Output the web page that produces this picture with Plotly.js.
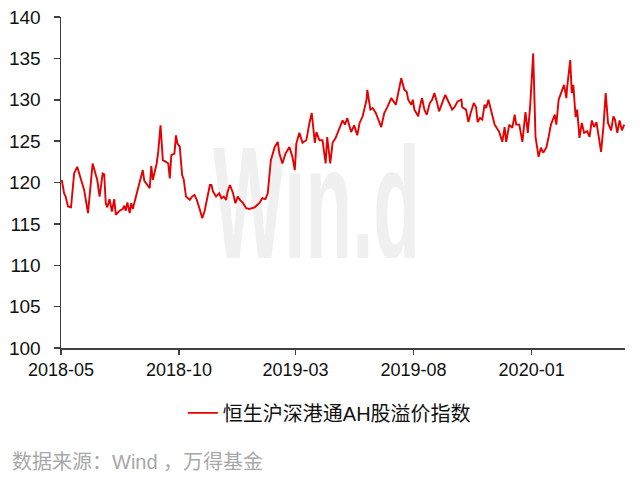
<!DOCTYPE html>
<html>
<head>
<meta charset="utf-8">
<script src="https://cdn.plot.ly/plotly-3.0.1.min.js"></script>
<style>html,body{margin:0;padding:0;background:#fff;}#chart{width:640px;height:481px;}</style>
</head>
<body>
<div id="chart"></div>
<script>
const seriesName = '恒生沪深港通AH股溢价指数';
const sourceText = '数据来源：Wind ，万得基金';
const dates = [
'2018-05-02','2018-05-05','2018-05-07','2018-05-10','2018-05-14','2018-05-18','2018-05-22','2018-05-25','2018-05-27','2018-05-31',
'2018-06-05','2018-06-09','2018-06-11','2018-06-14','2018-06-17','2018-06-20','2018-06-24','2018-06-26','2018-06-28','2018-06-30',
'2018-07-03','2018-07-06','2018-07-09','2018-07-11','2018-07-16','2018-07-20','2018-07-22','2018-07-24','2018-07-26','2018-07-29',
'2018-07-31','2018-08-02','2018-08-06','2018-08-10','2018-08-15','2018-08-17','2018-08-21','2018-08-24','2018-08-26','2018-08-28',
'2018-09-02','2018-09-04','2018-09-07','2018-09-09','2018-09-10','2018-09-14','2018-09-17','2018-09-19','2018-09-21','2018-09-25',
'2018-09-27','2018-09-29','2018-10-02','2018-10-03','2018-10-05','2018-10-07','2018-10-10','2018-10-15','2018-10-18','2018-10-21',
'2018-10-24','2018-10-28','2018-10-31','2018-11-03','2018-11-07','2018-11-10','2018-11-12','2018-11-14','2018-11-18','2018-11-22',
'2018-11-25','2018-11-28','2018-12-01','2018-12-03','2018-12-06','2018-12-10','2018-12-13','2018-12-16','2018-12-19','2018-12-23',
'2018-12-27','2018-12-31','2019-01-07','2019-01-13','2019-01-17','2019-01-21','2019-01-24','2019-01-28','2019-02-02','2019-02-06',
'2019-02-08','2019-02-12','2019-02-16','2019-02-21','2019-02-25','2019-02-28','2019-03-02','2019-03-06','2019-03-10','2019-03-15',
'2019-03-19','2019-03-22','2019-03-26','2019-03-28','2019-04-01','2019-04-05','2019-04-09','2019-04-11','2019-04-15','2019-04-18',
'2019-04-22','2019-04-27','2019-05-01','2019-05-04','2019-05-07','2019-05-12','2019-05-16','2019-05-20','2019-05-23','2019-05-27',
'2019-05-29','2019-06-01','2019-06-02','2019-06-06','2019-06-09','2019-06-13','2019-06-20','2019-06-24','2019-06-28','2019-07-03',
'2019-07-09','2019-07-12','2019-07-16','2019-07-20','2019-07-23','2019-07-25','2019-07-29','2019-07-31','2019-08-02','2019-08-07',
'2019-08-09','2019-08-12','2019-08-15','2019-08-18','2019-08-22','2019-08-25','2019-08-28','2019-08-31','2019-09-03','2019-09-07',
'2019-09-11','2019-09-14','2019-09-20','2019-09-23','2019-09-27','2019-10-02','2019-10-03','2019-10-08','2019-10-11','2019-10-14',
'2019-10-18','2019-10-21','2019-10-23','2019-10-26','2019-10-29','2019-11-01','2019-11-03','2019-11-06','2019-11-09','2019-11-14',
'2019-11-16','2019-11-20','2019-11-24','2019-11-27','2019-11-29','2019-12-03','2019-12-07','2019-12-10','2019-12-12','2019-12-16',
'2019-12-20','2019-12-24','2019-12-27','2019-12-30','2020-01-03','2020-01-06','2020-01-10','2020-01-13','2020-01-16','2020-01-20',
'2020-01-23','2020-01-26','2020-01-31','2020-02-02','2020-02-05','2020-02-09','2020-02-12','2020-02-15','2020-02-16','2020-02-20',
'2020-02-22','2020-02-24','2020-02-27','2020-02-29','2020-03-03','2020-03-06','2020-03-09','2020-03-13','2020-03-16','2020-03-19',
'2020-03-22','2020-03-25','2020-03-27','2020-03-31','2020-04-03','2020-04-06','2020-04-09','2020-04-13','2020-04-16','2020-04-18',
'2020-04-21','2020-04-24','2020-04-27','2020-04-30'
];
const values = [
120.3,118.7,118.3,117.1,117.0,121.1,121.9,120.9,120.4,119.1,
116.3,120.7,122.3,121.3,120.3,118.3,121.1,121.0,117.5,117.0,
118.0,116.5,118.0,116.1,116.6,116.8,117.2,116.6,117.6,116.3,
117.5,116.8,118.3,119.7,121.5,120.2,119.7,119.3,122.0,120.3,
122.3,123.7,126.9,124.7,122.7,122.5,122.3,120.5,123.3,123.5,
125.7,124.7,124.3,123.1,120.9,120.4,118.3,117.9,118.3,118.5,
117.9,116.7,115.7,116.5,118.3,119.7,119.7,118.9,118.3,118.7,
118.1,118.3,117.9,118.9,119.7,118.7,117.5,118.3,117.9,117.5,
116.9,116.8,117.0,117.5,118.1,118.0,118.7,122.7,124.3,124.9,
123.5,122.3,123.5,124.3,123.1,121.5,124.7,126.0,124.8,125.1,
127.2,128.4,124.8,126.1,125.1,125.1,122.3,125.5,122.3,124.8,
125.4,126.7,127.5,127.0,127.8,126.1,126.9,125.7,127.2,128.0,
129.0,130.0,131.2,128.8,129.0,128.4,126.7,128.4,129.1,130.2,
129.4,130.8,132.6,131.2,131.0,130.0,129.4,130.0,128.8,128.0,
129.1,130.2,128.8,128.2,129.6,130.0,130.8,129.8,128.6,129.6,
130.6,130.0,128.8,129.1,129.8,130.0,129.1,128.8,127.3,128.4,
129.6,129.1,127.3,127.8,127.6,129.4,129.0,130.0,128.8,127.0,
126.7,126.1,124.9,126.7,124.9,127.0,126.6,128.2,127.0,127.0,
124.9,128.5,126.0,129.1,135.6,125.5,123.1,124.2,123.6,124.2,
125.5,127.0,128.2,127.0,130.0,131.2,131.8,130.2,131.5,134.8,
130.8,131.8,127.9,128.8,125.4,127.2,126.0,126.2,125.5,127.5,
126.7,127.3,126.1,123.7,126.7,130.8,127.2,126.3,128.0,127.6,
126.0,127.5,126.3,127.0
];

const wm = '<svg xmlns="http://www.w3.org/2000/svg" width="207" height="115" viewBox="0 0 207 115">' +
  '<text x="0" y="115" font-family="Liberation Sans, Arial, sans-serif" font-weight="bold" font-size="160" fill="#f0f0f0" textLength="207" lengthAdjust="spacingAndGlyphs">Win.d</text></svg>';
const wmSrc = 'data:image/svg+xml;charset=utf-8,' + encodeURIComponent(wm);

const trace = {
  x: dates, y: values, type: 'scatter', mode: 'lines', name: seriesName,
  line: {color: '#e60000', width: 1.9}
};

const axisColor = '#404040';
const layout = {
  width: 640, height: 481,
  margin: {l: 61, r: 15, t: 17, b: 133},
  paper_bgcolor: '#ffffff', plot_bgcolor: 'rgba(0,0,0,0)',
  font: {family: 'Liberation Sans, Arial, Noto Sans CJK SC, sans-serif', color: '#111111'},
  showlegend: true,
  xaxis: {
    type: 'date', range: ['2018-05-01', '2020-05-01'],
    tick0: '2018-05-01', dtick: 'M5', tickformat: '%Y-%m',
    showgrid: false, zeroline: false,
    showline: true, linecolor: axisColor, linewidth: 1.5,
    ticks: 'outside', ticklen: 5, tickwidth: 1.5, tickcolor: axisColor,
    tickfont: {size: 18, color: '#111111'}
  },
  yaxis: {
    range: [100, 140], dtick: 5, tick0: 100,
    showgrid: false, zeroline: false,
    showline: true, linecolor: axisColor, linewidth: 1.5,
    ticks: 'outside', ticklen: 6, tickwidth: 1.5, tickcolor: axisColor,
    ticklabelstandoff: 9,
    tickfont: {size: 19, color: '#111111'}
  },
  legend: {
    orientation: 'h', x: 0.216, xanchor: 'left', y: -0.196, yanchor: 'middle',
    font: {size: 20, color: '#111111', family: 'Liberation Sans, Noto Sans CJK SC, sans-serif'},
    bgcolor: 'rgba(0,0,0,0)'
  },
  images: [{
    source: wmSrc, xref: 'paper', yref: 'paper',
    x: 0.2695, y: 0.619, sizex: 0.367, sizey: 0.347,
    xanchor: 'left', yanchor: 'top', sizing: 'stretch', layer: 'below'
  }],
  annotations: [{
    text: sourceText, xref: 'paper', yref: 'paper',
    x: -0.0904, y: -0.344, xanchor: 'left', yanchor: 'middle', showarrow: false,
    font: {size: 20, color: '#a8a8a8', family: 'Liberation Sans, Noto Sans CJK SC, sans-serif'}
  }]
};

Plotly.newPlot('chart', [trace], layout, {displayModeBar: false, staticPlot: true});
</script>
</body>
</html>
